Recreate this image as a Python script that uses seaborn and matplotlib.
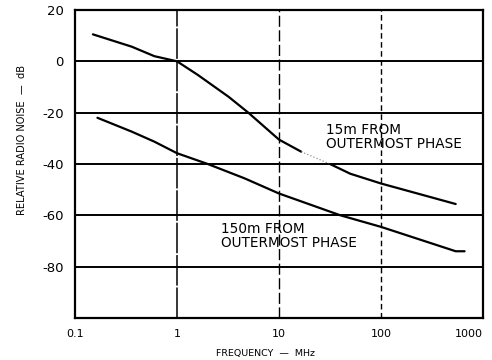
import matplotlib
matplotlib.use("Agg")
import matplotlib.pyplot as plt
import seaborn as sns
import pandas as pd

# Relative radio noise vs frequency, two lateral distances from the outermost phase
near_freq = [0.15, 0.36, 0.6, 1.0, 1.6, 3.2, 5.0, 10.0, 16.5]
near_db = [10.5, 5.7, 2.0, 0.0, -5.3, -13.8, -20.0, -30.5, -35.2]
near_gap_freq = [16.5, 31.6]
near_gap_db = [-35.2, -40.0]
near_tail_freq = [31.6, 50.0, 100.0, 540.0]
near_tail_db = [-40.0, -43.8, -47.6, -55.6]

far_freq = [0.166, 0.36, 0.6, 1.0, 2.0, 4.6, 10.0, 40.0, 100.0, 540.0, 660.0]
far_db = [-22.0, -27.4, -31.3, -35.8, -40.0, -45.6, -51.5, -60.0, -64.5, -74.0, -74.0]

y_ticks = [20, 0, -20, -40, -60, -80]
x_ticks = [0.1, 1, 10, 100, 1000]
x_tick_labels = ["0.1", "1", "10", "100", "1000"]

sns.set_style("white")
plt.rcParams["font.family"] = ["DejaVu Sans"]

fig = plt.figure(figsize=(4.92, 3.60), dpi=100)
ax = fig.add_axes([0.1524, 0.1167, 0.8293, 0.8556])

near = pd.DataFrame({"freq": near_freq, "db": near_db})
near_gap = pd.DataFrame({"freq": near_gap_freq, "db": near_gap_db})
near_tail = pd.DataFrame({"freq": near_tail_freq, "db": near_tail_db})
far = pd.DataFrame({"freq": far_freq, "db": far_db})

ax.set_xscale("log")
ax.set_xlim(0.1, 1000)
ax.set_ylim(-100, 20)

# grid
for y in [0, -20, -40, -60, -80]:
    ax.axhline(y, color="black", lw=1.4, zorder=1)
ax.axvline(1, color="black", lw=1.1, ls=(0, (20, 1.2)), zorder=1)
ax.axvline(10, color="black", lw=1.0, ls=(0, (8, 2.5)), zorder=1)
ax.axvline(100, color="black", lw=1.0, ls=(0, (4, 2.5)), zorder=1)

kw = dict(x="freq", y="db", sort=False, estimator=None, color="black", ax=ax, zorder=3)
sns.lineplot(data=near, lw=1.6, **kw)
sns.lineplot(data=near_gap, lw=0.8, ls=(0, (1, 2)), **{**kw, "color": "0.45"})
sns.lineplot(data=near_tail, lw=1.6, **kw)
sns.lineplot(data=far, lw=1.6, **kw)

ax.set_yticks(y_ticks)
ax.set_yticklabels([str(v) for v in y_ticks], fontsize=9.5, color="black")
ax.set_xticks(x_ticks)
ax.set_xticklabels(x_tick_labels, fontsize=8, color="black")
ax.get_xticklabels()[-1].set_horizontalalignment("right")
ax.xaxis.set_minor_locator(matplotlib.ticker.NullLocator())
ax.tick_params(axis="both", length=0, pad=8)

ax.set_xlabel("FREQUENCY  —  MHz", fontsize=6.8, color="black")
ax.xaxis.set_label_coords(0.467, -0.10)
ax.set_ylabel("RELATIVE RADIO NOISE  —  dB", fontsize=7.1, color="black")
ax.yaxis.set_label_coords(-0.118, 0.578)

for side in ["left", "right", "top", "bottom"]:
    ax.spines[side].set_visible(True)
    ax.spines[side].set_color("black")
    ax.spines[side].set_linewidth(1.6)

ax.text(28.8, -29.3, "15m FROM\nOUTERMOST PHASE", fontsize=9.8, ha="left", va="center",
        linespacing=1.0, color="black", zorder=4)
ax.text(2.7, -68.0, "150m FROM\nOUTERMOST PHASE", fontsize=9.8, ha="left", va="center",
        linespacing=1.0, color="black", zorder=4)

ax.set_facecolor("white")
fig.savefig("out.png", dpi=100, facecolor="white")
